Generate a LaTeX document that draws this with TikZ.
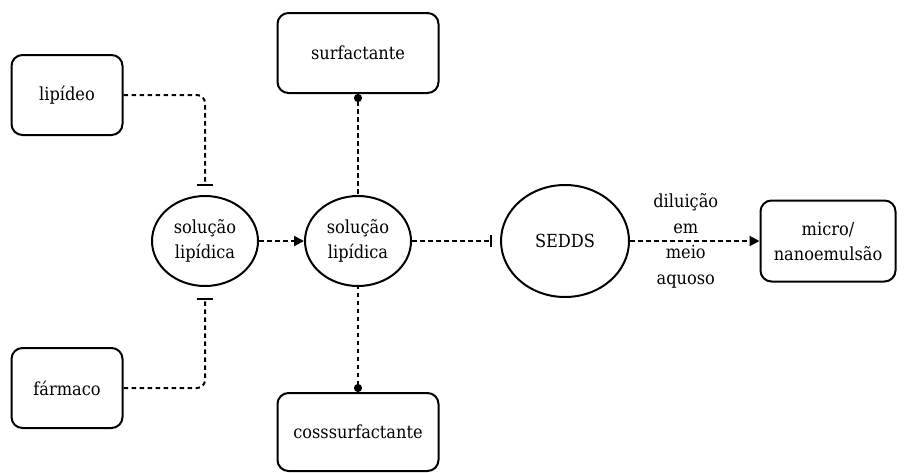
\documentclass[tikz,border=0pt]{standalone}
\usepackage{fontspec}
\setmainfont{DejaVu Serif Condensed}
\usetikzlibrary{arrows.meta,shapes.geometric}
\tikzset{
  box/.style={draw, line width=2pt, rounded corners=11pt, align=center, font=\fontsize{18}{25}\selectfont},
  oval/.style={draw, line width=2pt, ellipse, inner sep=0pt, align=center, font=\fontsize{18}{25}\selectfont},
  conn/.style={line width=2pt, dash pattern=on 4.5pt off 3.5pt},
  tbar/.style={conn, -{Bar[width=16pt,line width=2pt]}},
  sbar/.style={conn, -{Bar[width=12pt,line width=2pt]}},
  arr/.style={conn, -{Triangle[length=10pt,width=10pt]}},
  dot/.style={conn, {Circle[length=8pt]}-},
}
\begin{document}
\begin{tikzpicture}[x=1pt,y=-1pt]
\useasboundingbox (0,0) rectangle (909,472);
\node[box, minimum width=111pt, minimum height=80pt] (lip) at (67,95) {lipídeo};
\node[box, minimum width=111pt, minimum height=80pt] (farm) at (67,388) {fármaco};
\node[oval, minimum width=106pt, minimum height=90pt] (e1) at (205,241) {solução\\lipídica};
\node[oval, minimum width=106pt, minimum height=90pt] (e2) at (358,241) {solução\\lipídica};
\node[box, minimum width=161pt, minimum height=80pt] (surf) at (358,53) {surfactante};
\node[box, minimum width=161pt, minimum height=78pt] (coss) at (358,432) {cosssurfactante};
\node[oval, minimum width=128pt, minimum height=112pt] (sedds) at (565,241) {SEDDS};
\node[box, minimum width=135pt, minimum height=81pt] (micro) at (828,241) {micro/\\nanoemulsão};

\draw[tbar, rounded corners=8pt, shorten >=9pt] (lip.east) -| (e1.north);
\draw[tbar, rounded corners=8pt, shorten >=11pt] (farm.east) -| (e1.south);
\draw[arr] (e1.east) -- (e2.west);
\draw[dot] (surf.south) -- (e2.north);
\draw[dot] (coss.north) -- (e2.south);
\draw[sbar, shorten >=8pt] (e2.east) -- (sedds.west);
\draw[arr] (sedds.east) -- node[align=center, xshift=-9pt, font=\fontsize{18}{25.5}\selectfont] (lbl) {diluição\\em\\meio\\aquoso} (micro.west);
\end{tikzpicture}
\end{document}
